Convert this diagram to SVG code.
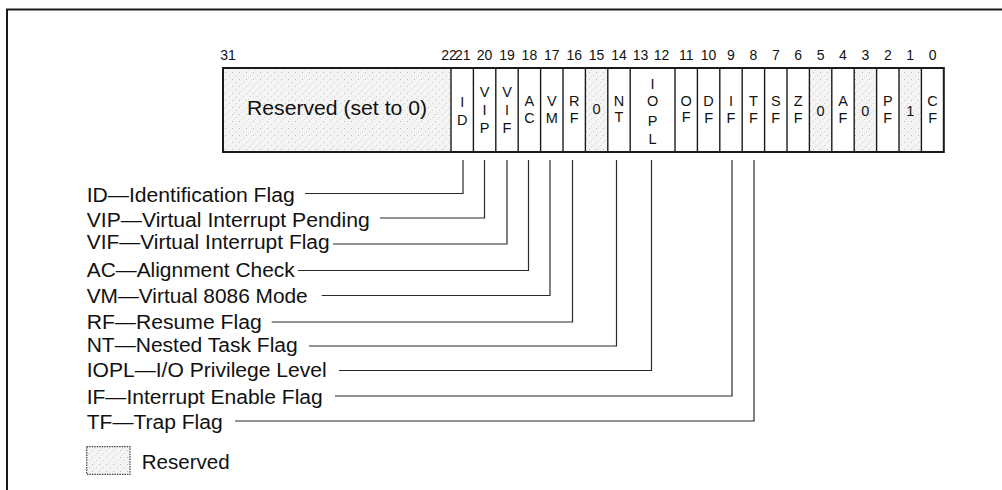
<svg xmlns="http://www.w3.org/2000/svg" width="1002" height="490" viewBox="0 0 1002 490">
<defs>
<pattern id="stipple" width="7" height="7" patternUnits="userSpaceOnUse">
<rect width="7" height="7" fill="#f4f4f4"/>
<rect x="1" y="2" width="1" height="1" fill="#bdbdbd"/>
<rect x="5" y="5" width="1" height="1" fill="#cfcfcf"/>
<rect x="3" y="0" width="1" height="1" fill="#d8d8d8"/>
</pattern>
<style>
.frame{fill:none;stroke:#1a1a1a;stroke-width:2}
.reg{fill:none;stroke:#1a1a1a;stroke-width:2}
.div{stroke:#1a1a1a;stroke-width:1.4}
.res{fill:url(#stipple);stroke:none}
.num{font-family:"Liberation Sans",Arial,sans-serif;font-size:14px;fill:#111;text-anchor:middle}
.bit{font-family:"Liberation Sans",Arial,sans-serif;font-size:14.5px;fill:#111;text-anchor:middle}
.lbl{font-family:"Liberation Sans",Arial,sans-serif;font-size:19.5px;fill:#111}
.conn{fill:none;stroke:#2a2a2a;stroke-width:1.2}
</style>
</defs>
<rect class="frame" x="7" y="9.5" width="1010" height="500"/>

<g id="register">
<rect class="res" x="223" y="68" width="228" height="84"/>
<rect class="res" x="585.4" y="68" width="22.4" height="84"/>
<rect class="res" x="809.4" y="68" width="22.4" height="84"/>
<rect class="res" x="854.2" y="68" width="22.4" height="84"/>
<rect class="res" x="899" y="68" width="22.4" height="84"/>
<rect class="reg" x="223" y="68" width="720.8" height="84"/>
<g class="div">
<line x1="451" y1="68" x2="451" y2="152"/>
<line x1="473.4" y1="68" x2="473.4" y2="152"/>
<line x1="495.8" y1="68" x2="495.8" y2="152"/>
<line x1="518.2" y1="68" x2="518.2" y2="152"/>
<line x1="540.6" y1="68" x2="540.6" y2="152"/>
<line x1="563" y1="68" x2="563" y2="152"/>
<line x1="585.4" y1="68" x2="585.4" y2="152"/>
<line x1="607.8" y1="68" x2="607.8" y2="152"/>
<line x1="630.2" y1="68" x2="630.2" y2="152"/>
<line x1="675" y1="68" x2="675" y2="152"/>
<line x1="697.4" y1="68" x2="697.4" y2="152"/>
<line x1="719.8" y1="68" x2="719.8" y2="152"/>
<line x1="742.2" y1="68" x2="742.2" y2="152"/>
<line x1="764.6" y1="68" x2="764.6" y2="152"/>
<line x1="787" y1="68" x2="787" y2="152"/>
<line x1="809.4" y1="68" x2="809.4" y2="152"/>
<line x1="831.8" y1="68" x2="831.8" y2="152"/>
<line x1="854.2" y1="68" x2="854.2" y2="152"/>
<line x1="876.6" y1="68" x2="876.6" y2="152"/>
<line x1="899" y1="68" x2="899" y2="152"/>
<line x1="921.4" y1="68" x2="921.4" y2="152"/>
</g>
<text class="lbl" x="337" y="115" text-anchor="middle" textLength="180" lengthAdjust="spacingAndGlyphs">Reserved (set to 0)</text>
</g>

<g id="bit-numbers">
<text class="num" x="228" y="60" text-anchor="start">31</text>
<text class="num" x="449" y="60" text-anchor="end">22</text>
<text class="num" x="462.8" y="60">21</text>
<text class="num" x="484.6" y="60">20</text>
<text class="num" x="507" y="60">19</text>
<text class="num" x="529.4" y="60">18</text>
<text class="num" x="551.8" y="60">17</text>
<text class="num" x="574.2" y="60">16</text>
<text class="num" x="596.6" y="60">15</text>
<text class="num" x="619" y="60">14</text>
<text class="num" x="640.5" y="60">13</text>
<text class="num" x="661.5" y="60">12</text>
<text class="num" x="686.2" y="60">11</text>
<text class="num" x="708.6" y="60">10</text>
<text class="num" x="731" y="60">9</text>
<text class="num" x="753.4" y="60">8</text>
<text class="num" x="775.8" y="60">7</text>
<text class="num" x="798.2" y="60">6</text>
<text class="num" x="820.6" y="60">5</text>
<text class="num" x="843" y="60">4</text>
<text class="num" x="865.4" y="60">3</text>
<text class="num" x="887.8" y="60">2</text>
<text class="num" x="910.2" y="60">1</text>
<text class="num" x="932.6" y="60">0</text>
</g>

<g id="bit-ID"><text class="bit" x="462.2" y="107">I<tspan x="462.2" dy="17.5">D</tspan></text></g>
<g id="bit-VIP"><text class="bit" x="484.6" y="97">V<tspan x="484.6" dy="17.5">I</tspan><tspan x="484.6" dy="18.5">P</tspan></text></g>
<g id="bit-VIF"><text class="bit" x="507" y="97">V<tspan x="507" dy="17.5">I</tspan><tspan x="507" dy="18.5">F</tspan></text></g>
<g id="bit-AC"><text class="bit" x="529.4" y="106">A<tspan x="529.4" dy="16.5">C</tspan></text></g>
<g id="bit-VM"><text class="bit" x="551.8" y="106">V<tspan x="551.8" dy="16.5">M</tspan></text></g>
<g id="bit-RF"><text class="bit" x="574.2" y="106">R<tspan x="574.2" dy="16.5">F</tspan></text></g>
<g id="bit-15"><text class="bit" x="596.6" y="114">0</text></g>
<g id="bit-NT"><text class="bit" x="619" y="105.5">N<tspan x="619" dy="16.5">T</tspan></text></g>
<g id="bit-IOPL"><text class="bit" x="652.6" y="88.5">I<tspan x="652.6" dy="17">O</tspan><tspan x="652.6" dy="20">P</tspan><tspan x="652.6" dy="18.5">L</tspan></text></g>
<g id="bit-OF"><text class="bit" x="686.2" y="105.5">O<tspan x="686.2" dy="16.5">F</tspan></text></g>
<g id="bit-DF"><text class="bit" x="708.6" y="106">D<tspan x="708.6" dy="16.5">F</tspan></text></g>
<g id="bit-IF"><text class="bit" x="731" y="106">I<tspan x="731" dy="16.5">F</tspan></text></g>
<g id="bit-TF"><text class="bit" x="753.4" y="106">T<tspan x="753.4" dy="16.5">F</tspan></text></g>
<g id="bit-SF"><text class="bit" x="775.8" y="106">S<tspan x="775.8" dy="16.5">F</tspan></text></g>
<g id="bit-ZF"><text class="bit" x="798.2" y="106">Z<tspan x="798.2" dy="16.5">F</tspan></text></g>
<g id="bit-5"><text class="bit" x="820.6" y="116">0</text></g>
<g id="bit-AF"><text class="bit" x="843" y="106">A<tspan x="843" dy="16.5">F</tspan></text></g>
<g id="bit-3"><text class="bit" x="865.4" y="116">0</text></g>
<g id="bit-PF"><text class="bit" x="887.8" y="106">P<tspan x="887.8" dy="16.5">F</tspan></text></g>
<g id="bit-1"><text class="bit" x="910.2" y="116">1</text></g>
<g id="bit-CF"><text class="bit" x="932.6" y="106">C<tspan x="932.6" dy="16.5">F</tspan></text></g>

<g id="connectors" class="conn">
<path d="M305,193.5 H463 V160"/>
<path d="M380,218 H484.5 V160"/>
<path d="M333,244 H507 V160"/>
<path d="M298,270.5 H528.5 V160"/>
<path d="M321.7,295.5 H550 V160"/>
<path d="M271.7,322 H572.5 V160"/>
<path d="M309,346 H616.5 V160"/>
<path d="M339,370.5 H651.5 V160"/>
<path d="M335,396 H732 V160"/>
<path d="M235,421 H754 V160"/>
</g>

<g id="label-ID"><text class="lbl" x="86.7" y="202" textLength="208" lengthAdjust="spacingAndGlyphs">ID—Identification Flag</text></g>
<g id="label-VIP"><text class="lbl" x="86.7" y="226.5" textLength="283" lengthAdjust="spacingAndGlyphs">VIP—Virtual Interrupt Pending</text></g>
<g id="label-VIF"><text class="lbl" x="86.7" y="249" textLength="243" lengthAdjust="spacingAndGlyphs">VIF—Virtual Interrupt Flag</text></g>
<g id="label-AC"><text class="lbl" x="86.7" y="277" textLength="208" lengthAdjust="spacingAndGlyphs">AC—Alignment Check</text></g>
<g id="label-VM"><text class="lbl" x="86.7" y="303" textLength="221" lengthAdjust="spacingAndGlyphs">VM—Virtual 8086 Mode</text></g>
<g id="label-RF"><text class="lbl" x="86.7" y="328.5" textLength="175" lengthAdjust="spacingAndGlyphs">RF—Resume Flag</text></g>
<g id="label-NT"><text class="lbl" x="86.7" y="352" textLength="211" lengthAdjust="spacingAndGlyphs">NT—Nested Task Flag</text></g>
<g id="label-IOPL"><text class="lbl" x="86.7" y="377" textLength="240" lengthAdjust="spacingAndGlyphs">IOPL—I/O Privilege Level</text></g>
<g id="label-IF"><text class="lbl" x="86.7" y="403.5" textLength="236" lengthAdjust="spacingAndGlyphs">IF—Interrupt Enable Flag</text></g>
<g id="label-TF"><text class="lbl" x="86.7" y="428.5" textLength="136" lengthAdjust="spacingAndGlyphs">TF—Trap Flag</text></g>

<g id="legend">
<rect x="86.7" y="446.7" width="43.3" height="27.6" fill="url(#stipple)" stroke="#444" stroke-width="1.2" stroke-dasharray="1.5,1"/>
<text class="lbl" x="141.7" y="468.5" textLength="88" lengthAdjust="spacingAndGlyphs">Reserved</text>
</g>
</svg>
